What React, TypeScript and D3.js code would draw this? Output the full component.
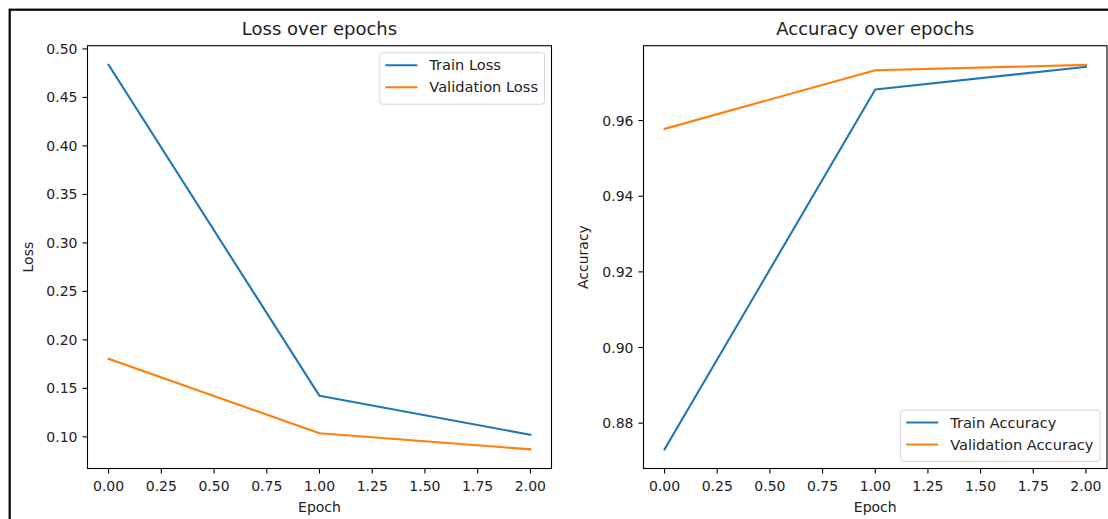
import React, { useEffect, useRef } from 'react';
import * as d3 from 'd3';

// Values
const epochs = [0, 1, 2];
const trainLoss = [0.4835, 0.1423, 0.1022];
const valLoss = [0.1805, 0.1037, 0.0872];
const trainAcc = [0.8731, 0.9682, 0.9742];
const valAcc = [0.9578, 0.9733, 0.9747];

const epochTicks = [0, 0.25, 0.5, 0.75, 1, 1.25, 1.5, 1.75, 2];
const lossTicks = [0.1, 0.15, 0.2, 0.25, 0.3, 0.35, 0.4, 0.45, 0.5];
const accTicks = [0.88, 0.9, 0.92, 0.94, 0.96];

const lossNames = ['Train Loss', 'Validation Loss'];
const accNames = ['Train Accuracy', 'Validation Accuracy'];

const BLUE = '#1f77b4';
const ORANGE = '#ff7f0e';
const FONT = '"DejaVu Sans", sans-serif';

// matplotlib-style autoscale: data extent plus 5% margins
const padded = (values: number[]): [number, number] => {
    const [lo, hi] = d3.extent(values) as [number, number];
    const pad = (hi - lo) * 0.05;
    return [lo - pad, hi + pad];
};

const App = () => {
    const svgRef = useRef<SVGSVGElement>(null);

    useEffect(() => {
        const width = 1108;
        const height = 519;
        const top = 45.7;
        const bottom = 468.5;

        const svg = d3.select(svgRef.current);
        svg.selectAll('*').remove();
        svg.attr('width', width).attr('height', height);

        svg.append('rect').attr('width', width).attr('height', height).attr('fill', '#fff');

        // outer frame of the screenshot (right/bottom fall outside the crop)
        svg.append('rect')
            .attr('x', 9.7).attr('y', 9.7)
            .attr('width', 1200).attr('height', 600)
            .attr('fill', 'none').attr('stroke', '#000').attr('stroke-width', 2.2);

        const panels = [
            {
                title: 'Loss over epochs', yLabel: 'Loss', train: trainLoss, val: valLoss,
                yTicks: lossTicks, names: lossNames, legend: 'upper',
                left: 87.5, right: 551.5, yLabelX: 33
            },
            {
                title: 'Accuracy over epochs', yLabel: 'Accuracy', train: trainAcc, val: valAcc,
                yTicks: accTicks, names: accNames, legend: 'lower',
                left: 643.5, right: 1107, yLabelX: 587.5
            }
        ];

        panels.forEach(p => {
            const g = svg.append('g').attr('font-family', FONT).attr('fill', '#000');

            const x = d3.scaleLinear().domain([-0.1, 2.1]).range([p.left, p.right]);
            const y = d3.scaleLinear().domain(padded([...p.train, ...p.val])).range([bottom, top]);

            // series lines
            const line = d3.line<number>()
                .x((_, i) => x(epochs[i]))
                .y(d => y(d));

            [[p.train, BLUE], [p.val, ORANGE]].forEach(([vals, color]) => {
                g.append('path')
                    .attr('d', line(vals as number[]))
                    .attr('fill', 'none')
                    .attr('stroke', color as string)
                    .attr('stroke-width', 2.1)
                    .attr('stroke-linejoin', 'round')
                    .attr('stroke-linecap', 'square');
            });

            // x ticks
            epochTicks.forEach(t => {
                g.append('line')
                    .attr('x1', x(t)).attr('x2', x(t))
                    .attr('y1', bottom).attr('y2', bottom + 5)
                    .attr('stroke', '#000').attr('stroke-width', 1.1);
                g.append('text')
                    .attr('x', x(t)).attr('y', bottom + 22.5)
                    .attr('text-anchor', 'middle')
                    .attr('font-size', 14)
                    .attr('fill', '#222')
                    .text(d3.format('.2f')(t));
            });

            // y ticks
            p.yTicks.forEach(t => {
                g.append('line')
                    .attr('x1', p.left - 5).attr('x2', p.left)
                    .attr('y1', y(t)).attr('y2', y(t))
                    .attr('stroke', '#000').attr('stroke-width', 1.1);
                g.append('text')
                    .attr('x', p.left - 10).attr('y', y(t))
                    .attr('dy', '0.36em')
                    .attr('text-anchor', 'end')
                    .attr('font-size', 14)
                    .attr('fill', '#222')
                    .text(d3.format('.2f')(t));
            });

            // axes frame
            g.append('rect')
                .attr('x', p.left).attr('y', top)
                .attr('width', p.right - p.left).attr('height', bottom - top)
                .attr('fill', 'none').attr('stroke', '#000').attr('stroke-width', 1.1);

            // title and axis labels
            g.append('text')
                .attr('x', (p.left + p.right) / 2).attr('y', 35)
                .attr('text-anchor', 'middle')
                .attr('font-size', 18)
                .attr('fill', '#222')
                .text(p.title);

            g.append('text')
                .attr('x', (p.left + p.right) / 2).attr('y', 512)
                .attr('text-anchor', 'middle')
                .attr('font-size', 14)
                .attr('fill', '#222')
                .text('Epoch');

            g.append('text')
                .attr('transform', `translate(${p.yLabelX},${(top + bottom) / 2}) rotate(-90)`)
                .attr('text-anchor', 'middle')
                .attr('font-size', 14)
                .attr('fill', '#222')
                .text(p.yLabel);

            // legend
            const boxH = 51.5;
            const boxTop = p.legend === 'upper' ? top + 7 : bottom - 7 - boxH;
            const lg = g.append('g');
            const frame = lg.append('rect');
            const labels = p.names.map((name, i) =>
                lg.append('text')
                    .attr('y', boxTop + 12.5 + i * 22)
                    .attr('dy', '0.36em')
                    .attr('font-size', 14.6)
                    .attr('fill', '#222')
                    .text(name)
            );
            const textW = d3.max(labels, l => (l.node() as SVGTextElement).getComputedTextLength()) || 0;
            const boxW = 5.5 + 32 + 12 + textW + 6.5;
            const boxLeft = p.right - 7 - boxW;
            frame
                .attr('x', boxLeft).attr('y', boxTop)
                .attr('width', boxW).attr('height', boxH)
                .attr('rx', 3)
                .attr('fill', '#fff').attr('fill-opacity', 0.8)
                .attr('stroke', '#d6d6d6').attr('stroke-width', 1);
            [BLUE, ORANGE].forEach((color, i) => {
                lg.append('line')
                    .attr('x1', boxLeft + 5.5).attr('x2', boxLeft + 37.5)
                    .attr('y1', boxTop + 12.5 + i * 22).attr('y2', boxTop + 12.5 + i * 22)
                    .attr('stroke', color).attr('stroke-width', 2.1);
            });
            labels.forEach(l => l.attr('x', boxLeft + 49.5));
        });
    }, []);

    return <svg ref={svgRef} style={{ position: 'absolute', left: 0, top: 0 }}></svg>;
};

export default App;
